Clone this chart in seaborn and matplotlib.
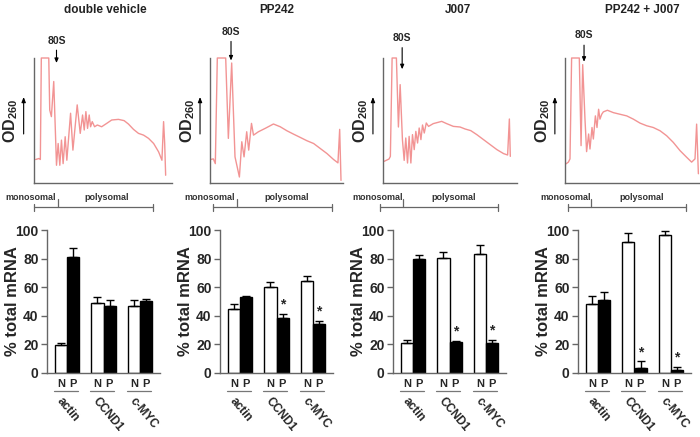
import matplotlib
matplotlib.use('Agg')
import pandas as pd
import matplotlib.pyplot as plt
import seaborn as sns
from matplotlib.transforms import blended_transform_factory

sns.set_style('white')
plt.rcParams['font.family'] = ['Liberation Sans', 'DejaVu Sans']
plt.rcParams['mathtext.fontset'] = 'custom'
plt.rcParams['mathtext.rm'] = 'Liberation Sans'
plt.rcParams['mathtext.bf'] = 'Liberation Sans:bold'

titles = ['double vehicle', 'PP242', 'J007', 'PP242 + J007']
genes = ['actin', 'CCND1', 'c-MYC']
fractions = ['N', 'P']

# % total mRNA, order: actin N, actin P, CCND1 N, CCND1 P, c-MYC N, c-MYC P
vehicle_mean = [19.3, 81.0, 49.3, 47.2, 47.2, 50.5]
vehicle_err = [1.6, 6.2, 3.7, 4.0, 4.0, 1.1]
pp242_mean = [44.7, 52.8, 60.0, 38.4, 64.0, 34.2]
pp242_err = [3.4, 1.2, 3.3, 3.0, 4.1, 2.5]
j007_mean = [20.7, 79.5, 80.2, 21.4, 83.0, 20.9]
j007_err = [2.3, 3.1, 4.5, 1.2, 6.3, 2.4]
combo_mean = [48.1, 50.9, 91.6, 3.5, 96.3, 2.3]
combo_err = [5.9, 5.4, 6.5, 4.6, 3.0, 2.1]
starred = [[], ['CCND1', 'c-MYC'], ['CCND1', 'c-MYC'], ['CCND1', 'c-MYC']]

# OD260 profiles (gradient position %, signal % of full scale)
vehicle_tx = [1.2, 3.6, 4.6, 5.3, 10.7, 11.4, 12.6, 14.3, 16.3, 17.5, 18.7, 19.9, 21.1, 22.6,
              23.8, 26.5, 28.2, 31.3, 33.5, 35.2, 36.4, 37.6, 38.8, 40.0, 41.0, 42.2, 43.9,
              45.9, 49.0, 52.7, 56.3, 61.2, 65.3, 68.4, 72.1, 75.7, 79.4, 83.0, 86.7, 90.3,
              92.7, 93.9, 94.7, 95.4]
vehicle_ty = [18.8, 19.6, 18.8, 100, 100, 58.4, 53.1, 81.2, 14.2, 31.6, 14.2, 34.3, 15.5, 37.0,
              18.2, 55.8, 26.3, 62.5, 39.7, 54.4, 42.4, 57.1, 43.7, 54.4, 45.0, 49.1, 45.0,
              46.4, 45.0, 47.7, 50.4, 50.9, 49.9, 47.2, 42.9, 39.7, 38.3, 35.7, 31.6, 24.9,
              18.2, 49.1, 31.6, 6.2]
pp242_tx = [0.5, 2.5, 4.0, 5.5, 11.8, 13.8, 16.3, 18.8, 22.1, 23.9, 25.6, 27.6, 29.1, 31.2,
            32.7, 36.4, 41.5, 47.7, 52.8, 57.8, 62.8, 67.8, 72.9, 77.9, 82.9, 87.9, 92.9,
            96.2, 97.5, 98.5]
pp242_ty = [18.8, 19.3, 15.5, 100, 100, 35.7, 96.0, 20.9, 4.8, 33.0, 20.9, 41.0, 26.3, 47.7,
            38.3, 41.0, 43.7, 47.2, 45.0, 41.8, 39.1, 36.5, 33.8, 31.6, 27.6, 23.6, 18.8,
            16.1, 42.9, 2.1]
j007_tx = [0.8, 4.5, 5.5, 6.8, 10.0, 11.5, 12.8, 14.5, 15.8, 17.0, 18.3, 19.5, 20.8, 22.0,
           23.3, 24.5, 25.8, 27.0, 28.3, 29.5, 30.8, 32.3, 34.0, 37.5, 43.8, 47.5, 52.5,
           57.5, 61.3, 65.5, 70.0, 75.0, 80.0, 85.0, 90.0, 93.0, 94.3, 95.0]
j007_ty = [17.3, 19.2, 21.3, 100, 100, 44.8, 78.7, 34.7, 18.1, 36.0, 16.0, 37.3, 16.0, 38.7,
           26.7, 41.3, 32.0, 44.0, 34.7, 46.4, 40.0, 48.0, 45.3, 47.5, 49.3, 47.5, 45.3,
           44.8, 43.2, 41.9, 38.7, 34.7, 30.7, 26.7, 23.5, 22.4, 51.2, 21.3]
combo_tx = [0.7, 2.5, 3.7, 4.9, 10.6, 11.9, 13.1, 14.8, 16.0, 17.5, 18.5, 20.0, 21.0, 22.5,
            23.7, 24.9, 25.9, 27.2, 28.4, 31.4, 35.8, 40.7, 45.7, 50.6, 55.6, 60.5, 65.4,
            70.4, 75.3, 80.2, 85.2, 90.1, 93.8, 96.3, 97.5, 98.8]
combo_ty = [15.3, 16.7, 19.3, 100, 100, 29.9, 94.7, 51.1, 25.1, 39.2, 27.2, 44.4, 35.2, 53.7,
            44.4, 59.0, 51.1, 55.0, 56.9, 58.2, 56.3, 55.0, 53.7, 51.1, 47.9, 45.8, 44.4,
            41.8, 37.8, 32.5, 25.9, 20.6, 16.7, 19.3, 47.1, 7.4]

means = [vehicle_mean, pp242_mean, j007_mean, combo_mean]
errs = [vehicle_err, pp242_err, j007_err, combo_err]
traces = [(vehicle_tx, vehicle_ty), (pp242_tx, pp242_ty), (j007_tx, j007_ty), (combo_tx, combo_ty)]

# layout in pixels of the 700x437 figure
W, H = 700, 437
prof_box = [(34, 138), (210, 133), (383, 134), (565, 135)]
bar_left = [47, 220, 393, 578]
title_x = [105, 277, 458, 642]
arrow_x = [16.3, 15.8, 14.3, 14.1]
arrow_tail = [110, 117, 112, 114]
arrow_head = [96, 98, 91, 97]
brk_ends = [(0, 86), (2.5, 91.7), (-2.5, 85.8), (2, 89.4)]
brk_mid = [17.5, 20, 15, 19]
mono_x = [-2.7, 0, -3.8, 0.5]
poly_x = [52.7, 57.8, 52.5, 56.8]

trace_col = '#f29494'
spine_col = '#666666'

fig = plt.figure(figsize=(7, 4.37), dpi=100)

for i in range(4):
    # ---- polysome profile ----
    pl, pw = prof_box[i]
    ax = fig.add_axes([pl / W, (H - 183) / H, pw / W, 125 / H])
    tx, ty = traces[i]
    sns.lineplot(x=tx, y=ty, sort=False, estimator=None, color=trace_col, lw=1.0,
                 ax=ax, clip_on=False)
    ax.set_xlim(0, 100)
    ax.set_ylim(0, 100)
    ax.set_xticks([])
    ax.set_yticks([])
    for s in ['top', 'right']:
        ax.spines[s].set_visible(False)
    for s in ['left', 'bottom']:
        ax.spines[s].set_color(spine_col)
        ax.spines[s].set_linewidth(1.0)
    ax.set_ylabel(r'$\mathbf{OD}_{\mathbf{260}}$', fontsize=11.5)
    ax.yaxis.set_label_coords(-0.10, 0.5)
    ax.annotate('', xy=(-0.075, 0.71), xytext=(-0.075, 0.37), xycoords='axes fraction',
                arrowprops=dict(arrowstyle='-|>,head_length=0.3,head_width=0.12',
                                color='black', lw=0.8))
    ax.annotate('80S', xy=(arrow_x[i], arrow_head[i]), xytext=(arrow_x[i], arrow_tail[i]),
                ha='center', va='bottom', fontsize=7.5, fontweight='bold',
                annotation_clip=False,
                arrowprops=dict(arrowstyle='-|>,head_length=0.35,head_width=0.15',
                                color='black', lw=0.8, shrinkA=1, shrinkB=0))
    fig.text(title_x[i] / W, 1 - 10 / H, titles[i], ha='center', va='center',
             fontsize=8.5, fontweight='bold', color='#222222')
    # monosomal / polysomal bracket
    x0, x1 = brk_ends[i]
    by = -19.5
    ax.plot([x0, x1], [by, by], color=spine_col, lw=0.9, clip_on=False)
    for xe in (x0, x1):
        ax.plot([xe, xe], [by - 2.5, by + 2.5], color=spine_col, lw=0.9, clip_on=False)
    ax.plot([brk_mid[i], brk_mid[i]], [by, by + 7], color=spine_col, lw=0.9, clip_on=False)
    ax.text(mono_x[i], -11.5, 'monosomal', ha='center', va='center', fontsize=6.5,
            fontweight='bold', color='#333333')
    ax.text(poly_x[i], -11.5, 'polysomal', ha='center', va='center', fontsize=6.5,
            fontweight='bold', color='#333333')

    # ---- bar chart ----
    bx = fig.add_axes([bar_left[i] / W, (H - 373) / H, 113 / W, 143 / H])
    df = pd.DataFrame({
        'gene': [g for g in genes for _ in fractions],
        'fraction': fractions * len(genes),
        'value': means[i],
        'err': errs[i],
    })
    sns.barplot(data=df, x='gene', y='value', hue='fraction', order=genes,
                hue_order=fractions, palette={'N': 'white', 'P': 'black'},
                edgecolor='black', linewidth=1.0, width=0.66, gap=0,
                errorbar=None, legend=False, ax=bx)
    for p in bx.patches:
        xc = p.get_x() + p.get_width() / 2
        gi = int(round(xc))
        fr = 'N' if xc < gi else 'P'
        row = df[(df['gene'] == genes[gi]) & (df['fraction'] == fr)].iloc[0]
        bx.errorbar(xc, row['value'], yerr=[[0], [row['err']]], fmt='none',
                    ecolor='black', elinewidth=1.0, capsize=3, capthick=1.0)
        if fr == 'P' and genes[gi] in starred[i]:
            bx.text(xc, row['value'] + row['err'] + 1.5, '*', ha='center', va='bottom',
                    fontsize=10, fontweight='bold')
    bx.set_xlim(-0.55, 2.55)
    bx.set_ylim(0, 100)
    bx.set_yticks([0, 20, 40, 60, 80, 100])
    bx.set_xticks([])
    bx.set_xlabel('')
    bx.set_ylabel('% total mRNA', fontsize=12, fontweight='bold')
    bx.yaxis.set_label_coords(-0.235, 0.5)
    bx.tick_params(axis='y', left=True, length=4, width=1.0, color=spine_col,
                   labelsize=10, pad=2)
    for lab in bx.get_yticklabels():
        lab.set_fontweight('bold')
    for s in ['top', 'right']:
        bx.spines[s].set_visible(False)
    for s in ['left', 'bottom']:
        bx.spines[s].set_color(spine_col)
        bx.spines[s].set_linewidth(1.0)
    tr = blended_transform_factory(bx.transData, bx.transAxes)
    for gi, g in enumerate(genes):
        bx.text(gi - 0.1625, -0.075, 'N', transform=tr, ha='center', va='center',
                fontsize=8, fontweight='bold')
        bx.text(gi + 0.1625, -0.075, 'P', transform=tr, ha='center', va='center',
                fontsize=8, fontweight='bold')
        bx.plot([gi - 0.36, gi + 0.3], [-0.128, -0.128], transform=tr, color='#777777',
                lw=0.9, clip_on=False)
        bx.text(gi - 0.1, -0.155, g, transform=tr, ha='left', va='top', rotation=-50,
                rotation_mode='anchor', fontsize=8.5, fontweight='bold')

fig.savefig('out.png', dpi=100)
